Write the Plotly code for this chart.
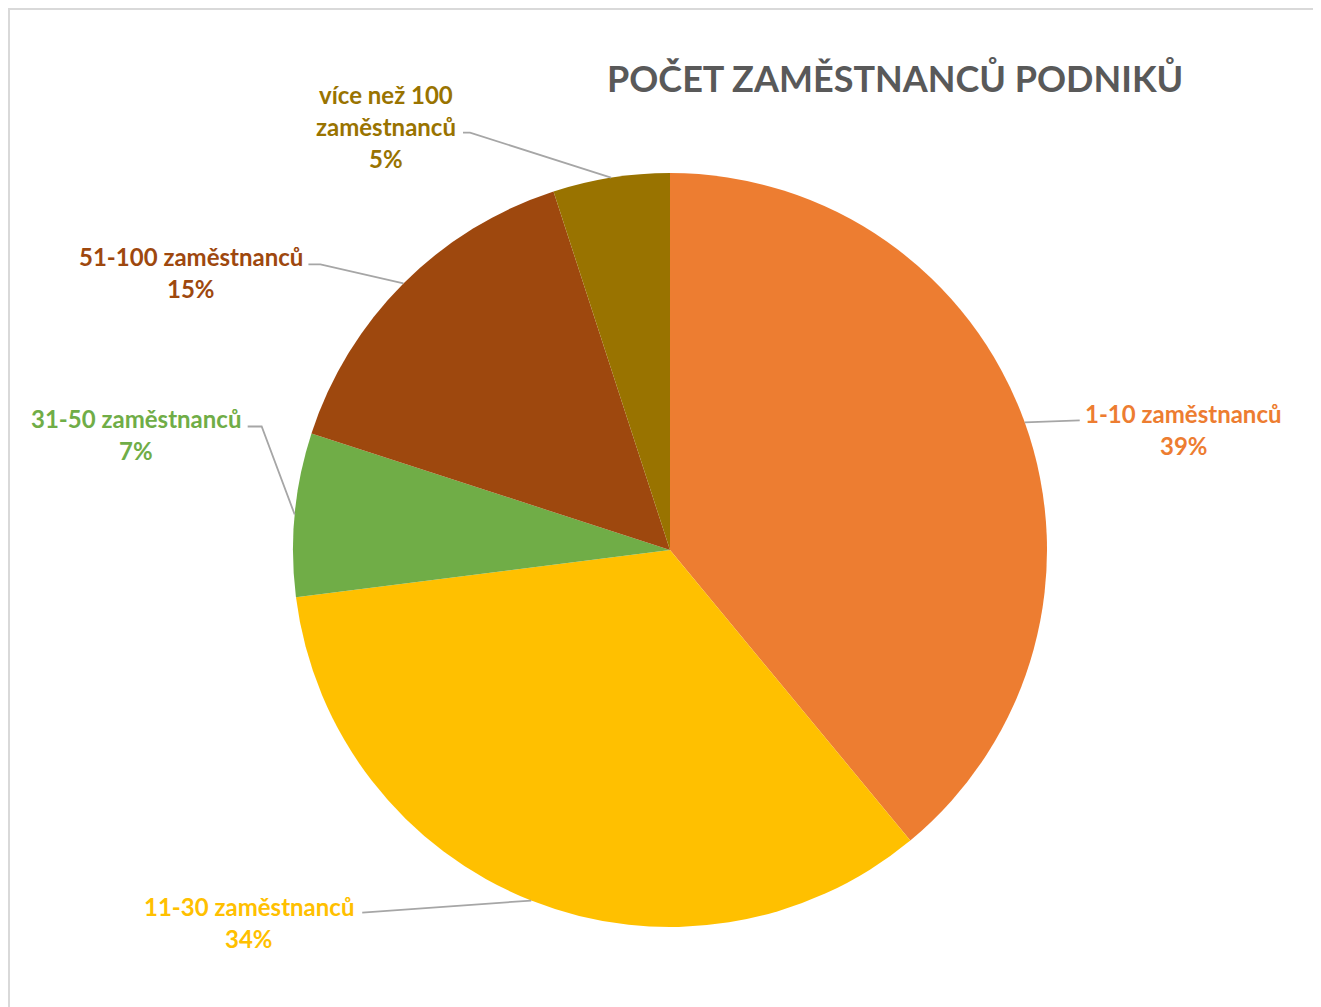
import math
import plotly.graph_objects as go

# ---- data ----
categories = ["1-10 zaměstnanců", "11-30 zaměstnanců", "31-50 zaměstnanců",
              "51-100 zaměstnanců", "více než 100<br>zaměstnanců"]
values = [39, 34, 7, 15, 5]
colors = ["#ED7D31", "#FFC000", "#70AD47", "#9E480E", "#997300"]
title_text = "POČET ZAMĚSTNANCŮ PODNIKŮ"

# ---- layout (pixels in the final page) ----
PAGE_W, PAGE_H = 1321, 1007
OFF = 8  # browser body margin
W, H = PAGE_W - OFF, PAGE_H - OFF
CX, CY, R = 670, 550, 377
# label layout offsets relative to the slice's mid-angle point on the rim
text_off = [(159, 7), (-282, 22), (-159, -80), (-212, -11), (-225, -51)]
elbow_off = [(55, -2), (-169, 12), (-33, -88), (-83, -19), (-141, -45)]
end_off = [(55, -2), (-169, 12), (-47, -88), (-95, -19), (-148, -45)]
LINE_H = 32
FONT = "Lato, 'Open Sans', sans-serif"


def px(x):
    return (x - OFF) / W


def py(y):
    return 1 - (y - OFF) / H


fig = go.Figure(go.Pie(
    labels=categories, values=values, sort=False, direction="clockwise",
    rotation=0, marker=dict(colors=colors, line=dict(width=0)),
    textinfo="none", hoverinfo="label+percent", showlegend=False,
    domain=dict(x=[px(CX - R), px(CX + R)], y=[py(CY + R), py(CY - R)]),
))

total = sum(values)
cum = 0
annotations = []
shapes = []
for i, v in enumerate(values):
    mid = (cum + v / 2) / total * 2 * math.pi
    cum += v
    ax = CX + R * math.sin(mid)
    ay = CY - R * math.cos(mid)
    ex, ey = ax + elbow_off[i][0], ay + elbow_off[i][1]
    nx, ny = ax + end_off[i][0], ay + end_off[i][1]
    path = f"M {px(ax)} {py(ay)} L {px(ex)} {py(ey)} L {px(nx)} {py(ny)}"
    shapes.append(dict(type="path", xref="paper", yref="paper", path=path,
                       line=dict(color="#A6A6A6", width=1.8)))
    pct = round(v / total * 100)
    lines = categories[i].split("<br>") + [f"{pct}%"]
    tx, ty = ax + text_off[i][0], ay + text_off[i][1]
    n = len(lines)
    for j, ln in enumerate(lines):
        yy = ty + (j - (n - 1) / 2) * LINE_H
        annotations.append(dict(
            x=px(tx), y=py(yy), xref="paper", yref="paper", text=f"<b>{ln}</b>",
            showarrow=False, xanchor="center", yanchor="middle",
            font=dict(family=FONT, size=24, color=colors[i])))

annotations.append(dict(
    x=px(895), y=py(78), xref="paper", yref="paper", text=f"<b>{title_text}</b>",
    showarrow=False, xanchor="center", yanchor="middle",
    font=dict(family=FONT, size=36, color="#595959")))

shapes.append(dict(type="rect", xref="paper", yref="paper",
                   x0=px(9), x1=px(1317), y0=-0.05, y1=py(9),
                   line=dict(color="#D9D9D9", width=2)))

fig.update_layout(
    width=W, height=H, margin=dict(l=0, r=0, t=0, b=0),
    paper_bgcolor="white", plot_bgcolor="white",
    annotations=annotations, shapes=shapes,
)
fig.write_html("out.html")
